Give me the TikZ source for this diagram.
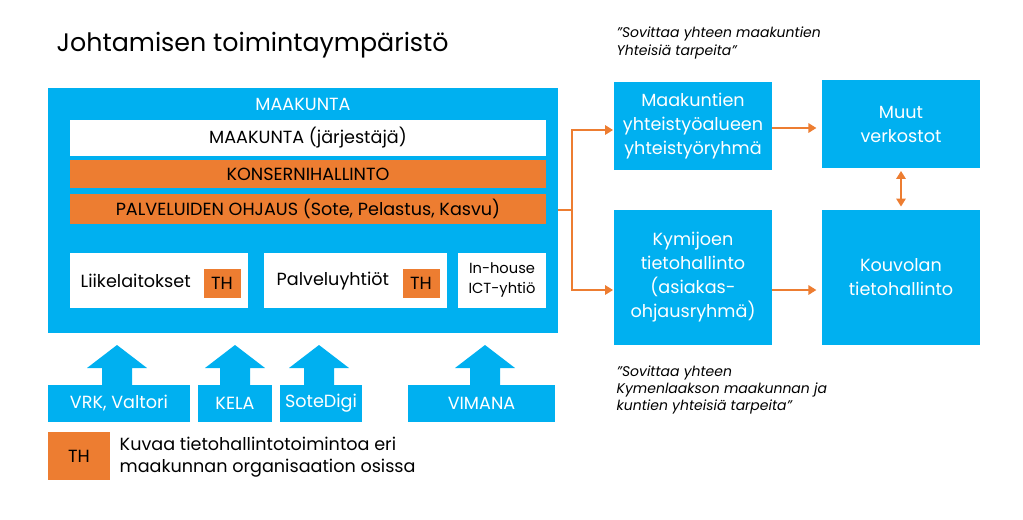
\documentclass[tikz,border=0pt]{standalone}
\usepackage{fontspec}
\setmainfont{Poppins}
\usetikzlibrary{arrows.meta}
\definecolor{mblue}{RGB}{0,176,240}
\definecolor{morange}{RGB}{237,125,49}
\tikzset{
  bluebox/.style={fill=mblue,draw=none,text=white,align=center,inner sep=0pt},
  whitebox/.style={fill=white,draw=none,text=black,align=center,inner sep=0pt},
  orangebox/.style={fill=morange,draw=none,text=black,align=center,inner sep=0pt},
  link/.style={morange,line width=1.6pt,-{Triangle[length=6pt,width=7pt]}},
  quote/.style={anchor=west,font=\fontsize{10.5}{13}\selectfont\itshape,align=left}
}
\begin{document}
\begin{tikzpicture}[x=0.75pt,y=-0.75pt,font=\fontsize{13.2}{17}\selectfont]
\useasboundingbox (0,0) rectangle (1023,519);
\node[anchor=west,font=\fontsize{19}{22}\selectfont] (title) at (52,45) {Johtamisen toimintaympäristö};
% maakunta
\fill[mblue] (48,88) rectangle (558,333);
\node[text=white] (mk) at (303,104) {MAAKUNTA};
\node[whitebox,minimum width=476*0.75pt,minimum height=36*0.75pt] (jarj) at (308,138) {MAAKUNTA (järjestäjä)};
\node[orangebox,minimum width=476*0.75pt,minimum height=28*0.75pt] (konserni) at (308,174) {KONSERNIHALLINTO};
\node[orangebox,minimum width=476*0.75pt,minimum height=30*0.75pt] (ohjaus) at (308,209) {PALVELUIDEN OHJAUS (Sote, Pelastus, Kasvu)};
\node[whitebox,minimum width=178*0.75pt,minimum height=55*0.75pt] (liike) at (159,280) {};
\node[anchor=west] at (76,281) {Liikelaitokset};
\node[orangebox,minimum width=37*0.75pt,minimum height=29*0.75pt] (th1) at (222,283) {TH};
\node[whitebox,minimum width=183*0.75pt,minimum height=55*0.75pt] (palv) at (355,280) {};
\node[anchor=west] at (272,281) {Palveluyhtiöt};
\node[orangebox,minimum width=37*0.75pt,minimum height=29*0.75pt] (th2) at (421,283) {TH};
\node[whitebox,minimum width=88*0.75pt,minimum height=55*0.75pt,font=\fontsize{11}{15}\selectfont] (ict) at (502,280) {In-house\\ICT-yhtiö};
% block arrows
\foreach \cx/\l/\r/\txt/\nm in {117/48/190/{VRK, Valtori}/vrk,235/198/272/KELA/kela,319/280/362/SoteDigi/sote,485/408/555/VIMANA/vimana} {
  \fill[mblue] (\cx-15,385) -- (\cx-15,368) -- (\cx-30,368) -- (\cx,345) -- (\cx+30,368) -- (\cx+15,368) -- (\cx+15,385) -- cycle;
  \node[bluebox,minimum width=(\r-\l)*0.75pt,minimum height=37*0.75pt] (\nm) at ({(\l+\r)/2},403) {\txt};
}
% legend
\node[orangebox,minimum width=62*0.75pt,minimum height=48*0.75pt] (thleg) at (79,456) {TH};
\node[anchor=west,align=left] (legtxt) at (115,457) {Kuvaa tietohallintotoimintoa eri\\maakunnan organisaation osissa};
% right side
\node[bluebox,minimum width=158*0.75pt,minimum height=88*0.75pt,font=\fontsize{13.2}{18}\selectfont] (yhteis) at (693,126) {Maakuntien\\yhteistyöalueen\\yhteistyöryhmä};
\node[bluebox,minimum width=158*0.75pt,minimum height=88*0.75pt,font=\fontsize{13.2}{18}\selectfont] (muut) at (901,124) {Muut\\verkostot};
\node[bluebox,minimum width=158*0.75pt,minimum height=135*0.75pt,font=\fontsize{13.2}{18}\selectfont] (kymi) at (693,277) {Kymijoen\\tietohallinto\\(asiakas-\\ohjausryhmä)};
\node[bluebox,minimum width=158*0.75pt,minimum height=135*0.75pt,font=\fontsize{13.2}{18}\selectfont] (kouv) at (901,277) {Kouvolan\\tietohallinto};
\node[quote] (q1) at (612,43) {”Sovittaa yhteen maakuntien\\Yhteisiä tarpeita”};
\node[quote] (q2) at (612,390) {”Sovittaa yhteen\\Kymenlaakson maakunnan ja\\kuntien yhteisiä tarpeita”};
% connectors
\coordinate (out) at (558,210);
\coordinate (split) at (572,210);
\draw[morange,line width=1.6pt] (out) -- (split);
\draw[link] (split) |- ([xshift=-0.5pt]yhteis.west |- 0,130);
\draw[link] (split) |- ([xshift=-0.5pt]kymi.west |- 0,290);
\draw[link] (yhteis.east |- 0,128) -- ([xshift=-4pt]muut.west |- 0,128);
\draw[link] (kymi.east |- 0,290) -- ([xshift=-4pt]kouv.west |- 0,290);
\draw[morange,line width=1.6pt,{Triangle[length=6pt,width=7pt]}-{Triangle[length=6pt,width=7pt]}] ([yshift=-2pt]muut.south) -- ([yshift=2pt]kouv.north);
\end{tikzpicture}
\end{document}
